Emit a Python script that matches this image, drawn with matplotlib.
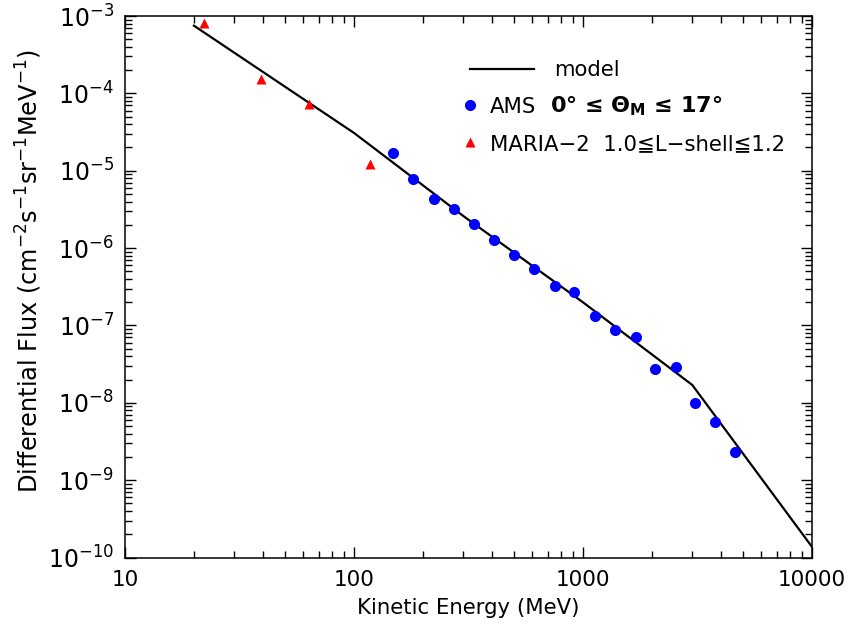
import matplotlib
matplotlib.use("Agg")
import matplotlib.pyplot as plt
import numpy as np
from matplotlib.ticker import LogLocator, FixedLocator, FixedFormatter, NullFormatter

plt.rcParams['font.family'] = ['DejaVu Sans']
plt.rcParams['mathtext.fontset'] = 'dejavusans'

# model curve (kinetic energy in MeV, flux)
model_E = [20, 100, 300, 1000, 3000, 10000]
model_F = [7.5e-4, 3.08e-5, 2.6e-6, 1.99e-7, 1.70e-8, 1.37e-10]

# AMS measurements, 0 <= Theta_M <= 17 deg
ams_E = [148, 181, 223, 273, 334, 409, 500, 611, 755, 914,
         1128, 1380, 1703, 2061, 2546, 3083, 3770, 4610]
ams_F = [1.69e-5, 7.8e-6, 4.3e-6, 3.2e-6, 2.05e-6, 1.27e-6, 8.1e-7, 5.4e-7, 3.24e-7, 2.7e-7,
         1.32e-7, 8.7e-8, 7.1e-8, 2.73e-8, 2.9e-8, 9.9e-9, 5.6e-9, 2.3e-9]

# MARIA-2 measurements, 1.0 <= L-shell <= 1.2
maria_E = [22.1, 39.3, 63.5, 117.5]
maria_F = [8.1e-4, 1.53e-4, 7.3e-5, 1.22e-5]

xticks = [10, 100, 1000, 10000]
xticklabels = ["10", "100", "1000", "10000"]
yticks = [10.0**k for k in range(-10, -2)]
yticklabels = [r"$10^{%d}$" % k for k in range(-10, -2)]

fig = plt.figure(figsize=(8.51, 6.26), dpi=100)
ax = fig.add_axes([0.1469, 0.1094, 0.8073, 0.865])

line_model, = ax.plot(model_E, model_F, color='black', lw=1.6)
pts_ams, = ax.plot(ams_E, ams_F, 'o', color='#0000ff', ms=8, mec='none', lw=0)
pts_maria, = ax.plot(maria_E, maria_F, '^', color='#ff0000', ms=7.5, mec='none', lw=0)

ax.set_xscale('log')
ax.set_yscale('log')
ax.set_xlim(10, 10000)
ax.set_ylim(1e-10, 1e-3)

ax.xaxis.set_major_locator(FixedLocator(xticks))
ax.xaxis.set_major_formatter(FixedFormatter(xticklabels))
ax.xaxis.set_minor_locator(LogLocator(base=10, subs=np.arange(2, 10)))
ax.xaxis.set_minor_formatter(NullFormatter())
ax.yaxis.set_major_locator(FixedLocator(yticks))
ax.yaxis.set_major_formatter(FixedFormatter(yticklabels))
ax.yaxis.set_minor_locator(LogLocator(base=10, subs=np.arange(2, 10), numticks=20))
ax.yaxis.set_minor_formatter(NullFormatter())

ax.tick_params(which='both', direction='in', top=True, right=True, width=1.0, color='black')
ax.tick_params(which='major', length=8)
ax.tick_params(which='minor', length=5)
ax.tick_params(axis='x', which='major', labelsize=15.5, pad=9)
ax.tick_params(axis='y', which='major', labelsize=17, pad=8)
for s in ax.spines.values():
    s.set_linewidth(1.1)

ax.set_xlabel("Kinetic Energy (MeV)", fontsize=15.3, labelpad=6)
ax.set_ylabel(r"Differential Flux (cm$^{-2}$s$^{-1}$sr$^{-1}$MeV$^{-1}$)", fontsize=17.3)
ax.yaxis.set_label_coords(-0.118, 0.529)

leg1 = ax.legend([line_model], ["model"], loc='upper left', bbox_to_anchor=(0.502, 0.918),
                 frameon=False, fontsize=15.3, handlelength=3.0, handletextpad=0.95,
                 borderaxespad=0, borderpad=0)
ax.add_artist(leg1)
leg2 = ax.legend([pts_ams, pts_maria], ["AMS", "MARIA\u22122  1.0\u2266L\u2212shell\u22661.2"],
                 loc='upper left', bbox_to_anchor=(0.493, 0.851), frameon=False, fontsize=15.3,
                 handlelength=0.6, handletextpad=0.65, labelspacing=0.8, numpoints=1,
                 borderaxespad=0, borderpad=0)
ams_text = leg2.get_texts()[0]
ax.annotate("0\u00b0 \u2264 \u0398$_\\mathbf{M}$ \u2264 17\u00b0", xy=(1, 0.22), xycoords=ams_text,
            xytext=(10, 0), textcoords='offset points', va='baseline', ha='left',
            fontsize=16, fontweight='bold', zorder=10)

fig.savefig("out.png", dpi=100)
